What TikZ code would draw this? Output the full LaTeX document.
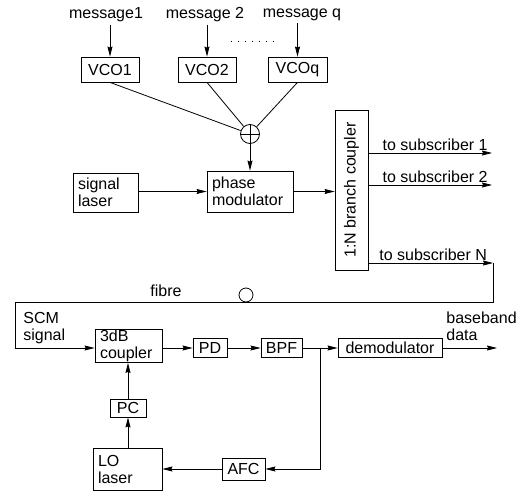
\documentclass[tikz,border=0pt]{standalone}
\usepackage{fontspec}
\setmainfont{Liberation Sans}
\usetikzlibrary{arrows.meta}
\tikzset{
  every node/.style={font=\fontsize{16}{17}\selectfont, inner sep=2pt},
  blk/.style={draw, line width=0.8pt, inner xsep=5pt, inner ysep=0pt},
  arr/.style={-{Stealth[length=10pt,width=5pt,inset=1pt]}},
}
\begin{document}
\begin{tikzpicture}[x=1pt, y=-1pt, line width=0.8pt]
\useasboundingbox (0,0) rectangle (523,492);

\node (m1) at (106,15) {message1};
\node (m2) at (205,15) {message 2};
\node (mq) at (302,15) {message q};
\draw[dash pattern=on 1pt off 6pt] (231,41) -- (278,41);

\node[blk, minimum width=58pt, minimum height=25pt] (vco1) at (110,69.5) {VCO1};
\node[blk, minimum width=58pt, minimum height=25pt] (vco2) at (207,69.5) {VCO2};
\node[blk, minimum width=59pt, minimum height=25pt] (vcoq) at (297.5,69.5) {VCOq};
\node[draw, circle, minimum size=19pt, inner sep=0pt,
  path picture={\draw (path picture bounding box.north) -- (path picture bounding box.south)
    (path picture bounding box.west) -- (path picture bounding box.east);}] (sum) at (250,134) {};

\node[blk, text width=55pt, align=left, minimum height=39pt] (lsig) at (105.5,192.5) {signal\\laser};
\node[blk, text width=76pt, align=left, minimum height=41pt] (pm) at (250,191.5) {phase\\modulator};
\node[blk, rotate=90, minimum width=160pt, minimum height=33pt] (bc) at (351.5,190) {1:N branch coupler};

\draw[arr] (vco1.north |- m1.south) -- (vco1);
\draw[arr] (vco2.north |- m2.south) -- (vco2);
\draw[arr] (vcoq.north |- mq.south) -- (vcoq);
\draw (vco1.south) -- (sum);
\draw (vco2.south) -- (sum);
\draw (vcoq.south) -- (sum);
\draw[arr] (sum) -- (pm);
\draw[arr] (lsig.east |- pm) -- (pm);
\draw[arr] (pm.east) -- (pm.east -| bc.north);

\coordinate (s1) at (492,153);
\coordinate (s2) at (492,185);
\coordinate (sN) at (493,263);
\draw[arr] (bc.south |- s1) -- node[above, pos=0.54] {to subscriber 1} (s1);
\draw[arr] (bc.south |- s2) -- node[above, pos=0.54] {to subscriber 2} (s2);
\draw[arr] (bc.south |- sN) -- node[above, pos=0.52] {to subscriber N} (sN);

\node[blk, text width=57pt, align=left, minimum height=33pt] (c3) at (128.5,346) {3dB\\coupler};
\node[blk, minimum width=34pt, minimum height=19pt] (pd) at (210,348) {PD};
\node[blk, minimum width=41pt, minimum height=19pt] (bpf) at (281.5,348) {BPF};
\node[blk, minimum width=104pt, minimum height=19pt] (demod) at (390,348) {demodulator};
\node[blk, minimum width=36pt, minimum height=18pt] (pc) at (128,408) {PC};
\node[blk, text width=59pt, align=left, minimum height=42pt] (lo) at (127.5,469) {LO\\laser};
\node[blk, minimum width=43pt, minimum height=22pt] (afc) at (243.5,469) {AFC};

\coordinate (f1) at (15,302);
\draw[arr] (sN) |- (f1) |- (c3.west |- pd);
\node (fib) at (166,291) {fibre};
\node[draw, circle, minimum size=14pt, inner sep=0pt] (loop) at (246,295) {};
\node[anchor=west, align=left] (scm) at (21,328) {SCM\\signal};

\coordinate (br) at (320,348);
\coordinate (out) at (497,348);
\draw[arr] (c3.east |- pd) -- (pd);
\draw[arr] (pd) -- (bpf);
\draw (bpf) -- (br);
\draw[arr] (br) -- (demod);
\draw[arr] (demod) -- (out);
\node[anchor=west, align=left, inner sep=0pt] (bb) at (446,326) {baseband\\data};
\draw[arr] (br) |- (afc);
\draw[arr] (afc) -- (lo);
\draw[arr] (lo.north -| pc) -- (pc);
\draw[arr] (pc) -- (pc |- c3.south);
\end{tikzpicture}
\end{document}
